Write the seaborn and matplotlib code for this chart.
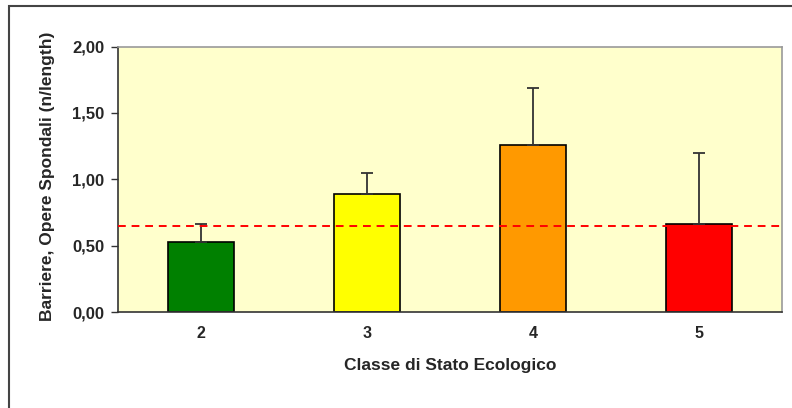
import seaborn as sns
import numpy as np
import pandas as pd
import matplotlib.pyplot as plt
from matplotlib.patches import Rectangle

# data
classes = ['2', '3', '4', '5']
means = [0.53, 0.89, 1.26, 0.66]
err_up = [0.13, 0.16, 0.43, 0.54]
bar_colors = ['#008000', '#FFFF00', '#FF9900', '#FF0000']
reference = 0.65

sns.set_style('white')
plt.rcParams['font.family'] = ['Liberation Sans', 'DejaVu Sans']

df = pd.DataFrame({'classe': classes, 'valore': means})

fig = plt.figure(figsize=(7.92, 4.08), dpi=100)
ax = fig.add_axes([0.149, 0.235, 0.838, 0.651])
ax.set_facecolor('#FFFFCC')

sns.barplot(data=df, x='classe', y='valore', hue='classe', palette=bar_colors, saturation=1,
            width=0.4, edgecolor='black', linewidth=1.2, legend=False, ax=ax)

#upper error bars only
ax.errorbar(np.arange(len(classes)), means, yerr=[np.zeros(len(classes)), err_up],
            fmt='none', ecolor='#333333', elinewidth=1.3, capsize=4, capthick=1.3, zorder=3)

ax.axhline(reference, color='red', linestyle='--', dashes=(4, 3), linewidth=1.4, zorder=4)

ax.set_xlim(-0.5, 3.5)
ax.set_ylim(0, 2)
ax.set_yticks([0, 0.5, 1, 1.5, 2])
ax.set_yticklabels(['0,00', '0,50', '1,00', '1,50', '2,00'])
ax.set_xticks([-0.5, 0.5, 1.5, 2.5, 3.5], minor=True)
ax.tick_params(axis='x', which='major', length=0, pad=10, labelsize=11.5)
ax.tick_params(axis='x', which='minor', length=5, width=1, color='#333333')
ax.tick_params(axis='y', length=5, width=1, color='#333333', labelsize=12, left=True, pad=5)
for t in ax.get_xticklabels() + ax.get_yticklabels():
    t.set_fontweight('bold')

ax.set_xlabel('Classe di Stato Ecologico', fontsize=12.5, fontweight='bold', labelpad=12)
ax.set_ylabel('Barriere, Opere Spondali (n/length)', fontsize=12.5, fontweight='bold')
ax.yaxis.set_label_coords(-0.095, 0.51)

ax.spines['left'].set_color('#333333')
ax.spines['bottom'].set_color('#333333')
ax.spines['top'].set_color('#999999')
ax.spines['right'].set_color('#999999')
for s in ax.spines.values():
    s.set_linewidth(1.2)

#outer chart frame
fig.patches.append(Rectangle((9 / 792, -0.05), 1.0, 1 - 6 / 408 + 0.05, transform=fig.transFigure,
                             fill=False, edgecolor='#444444', linewidth=1.5))

fig.savefig('out.png', dpi=100)
